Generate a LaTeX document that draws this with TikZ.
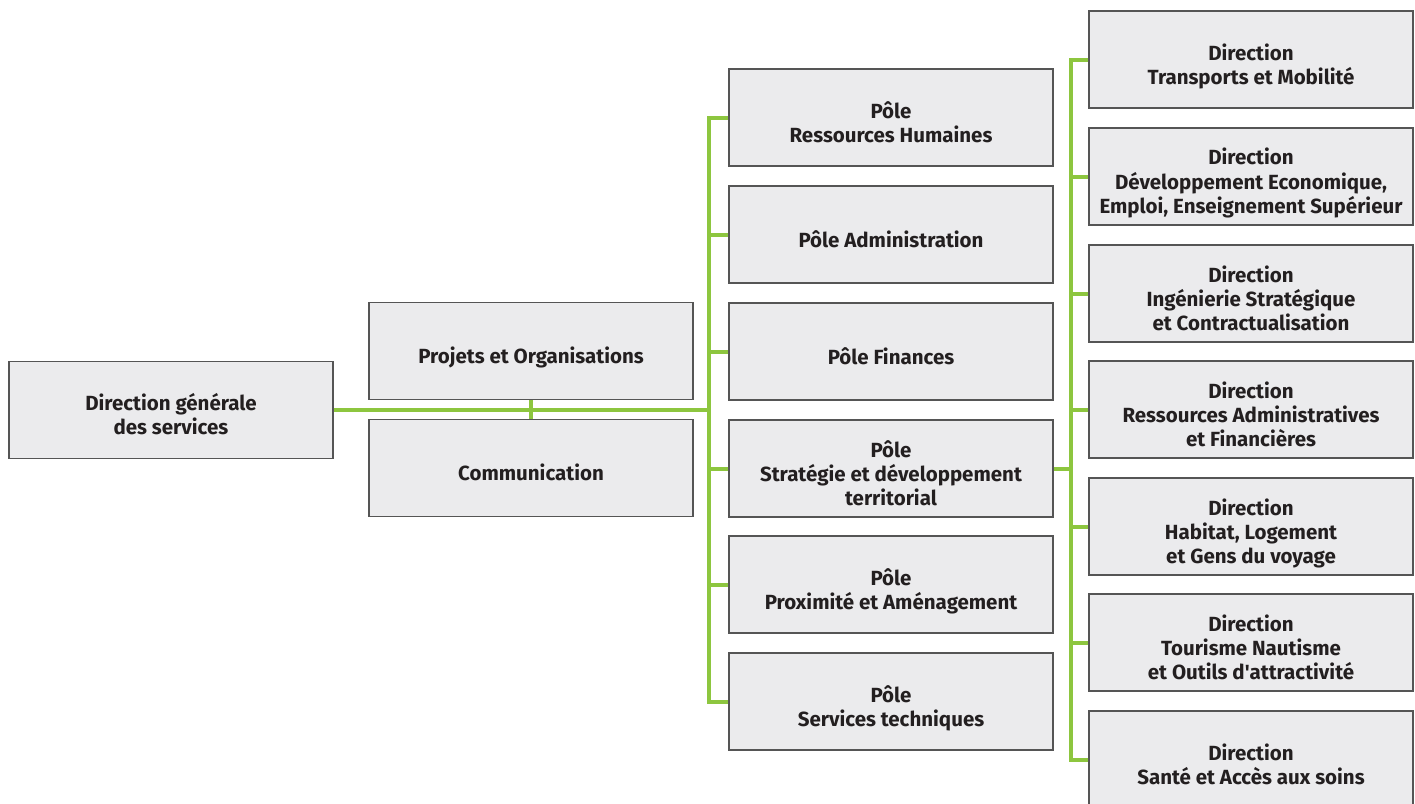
\documentclass[tikz,border=0pt]{standalone}
\usepackage{fontspec}
\setmainfont{Fira Sans}
\definecolor{boxfill}{HTML}{EBEBED}
\definecolor{boxline}{HTML}{555555}
\definecolor{grn}{HTML}{8DC63F}
\definecolor{txt}{HTML}{231F20}
\newcommand{\bxt}[1]{\raisebox{-8pt}[\height][\depth]{\begin{tabular}{@{}c@{}}#1\end{tabular}}}
\tikzset{
  orgbox/.style={draw=boxline, line width=1.4pt, fill=boxfill, minimum width=324pt, minimum height=97pt, inner sep=0pt, font=\fontsize{20.5}{24}\selectfont\bfseries, text=txt},
  link/.style={draw=grn, line width=4pt, line join=miter}
}
\begin{document}
\begin{tikzpicture}[x=1pt,y=-1pt]
\useasboundingbox (0,0) rectangle (1415,803);
% left
\node[orgbox] (dg) at (171,410) {\bxt{Direction générale\\des services}};
\node[orgbox] (proj) at (531,351) {\bxt{Projets et Organisations}};
\node[orgbox] (comm) at (531,468) {\bxt{Communication}};
% poles
\node[orgbox] (rh) at (891,117.5) {\bxt{Pôle\\Ressources Humaines}};
\node[orgbox] (adm) at (891,234.5) {\bxt{Pôle Administration}};
\node[orgbox] (fin) at (891,351.5) {\bxt{Pôle Finances}};
\node[orgbox] (strat) at (891,468.5) {\bxt{Pôle\\Stratégie et développement\\territorial}};
\node[orgbox] (prox) at (891,584.5) {\bxt{Pôle\\Proximité et Aménagement}};
\node[orgbox] (svc) at (891,701.5) {\bxt{Pôle\\Services techniques}};
% directions
\node[orgbox] (d1) at (1251,59.5) {\bxt{Direction\\Transports et Mobilité}};
\node[orgbox] (d2) at (1251,176.5) {\bxt{Direction\\Développement Economique,\\Emploi, Enseignement Supérieur}};
\node[orgbox] (d3) at (1251,293.5) {\bxt{Direction\\Ingénierie Stratégique\\et Contractualisation}};
\node[orgbox] (d4) at (1251,409.5) {\bxt{Direction\\Ressources Administratives\\et Financières}};
\node[orgbox] (d5) at (1251,526.5) {\bxt{Direction\\Habitat, Logement\\et Gens du voyage}};
\node[orgbox] (d6) at (1251,642.5) {\bxt{Direction\\Tourisme Nautisme\\et Outils d\textquotesingle attractivité}};
\node[orgbox] (d7) at (1251,759.5) {\bxt{Direction\\Santé et Accès aux soins}};
% connectors left
\coordinate (busL) at (710,410);
\path[link] (dg.east) -- (busL);
\path[link] (proj.south) -- (comm.north);
\path[link] (rh.west) -- ++(-19,0) |- (svc.west);
\path[link] (adm.west) -- ++(-19,0);
\path[link] (fin.west) -- ++(-19,0);
\path[link] (strat.west) -- ++(-19,0);
\path[link] (prox.west) -- ++(-19,0);
% connectors right
\path[link] (strat.east) -- ++(19,0);
\path[link] (d1.west) -- ++(-17,0) |- (d7.west);
\path[link] (d2.west) -- ++(-17,0);
\path[link] (d3.west) -- ++(-17,0);
\path[link] (d4.west) -- ++(-17,0);
\path[link] (d5.west) -- ++(-17,0);
\path[link] (d6.west) -- ++(-17,0);
\end{tikzpicture}
\end{document}
